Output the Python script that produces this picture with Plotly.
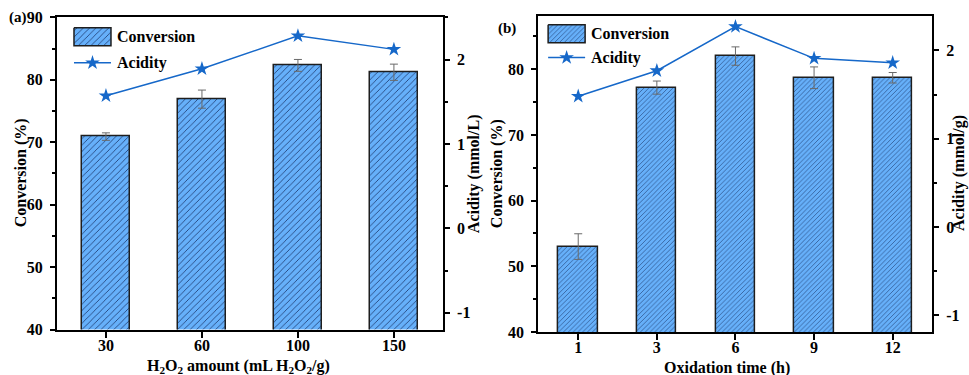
import plotly.graph_objects as go

# ---- data -------------------------------------------------------------
h2o2_amount = ["30", "60", "100", "150"]
conv_a = [70.9, 76.9, 82.3, 81.2]
conv_a_err = [0.6, 1.45, 0.95, 1.3]
acid_a = [1.57, 1.89, 2.28, 2.12]

ox_time = ["1", "3", "6", "9", "12"]
conv_b = [53.0, 77.2, 82.0, 78.7, 78.7]
conv_b_err = [1.95, 1.0, 1.4, 1.65, 0.8]
acid_b = [1.48, 1.77, 2.27, 1.91, 1.86]

acid_ticks = [-1, 0, 1, 2]
acid_ticktext = ["-1", "0", "1", "2"]

# ---- styling ----------------------------------------------------------
W, H = 969, 375
L, R, T, B = 57, 932.3, 15.7, 331.7          # outer plotting region in pixels
FONT = "Liberation Serif"
BAR_BG = "#66B0FA"
HATCH = "#1E3C70"
EDGE = "#1E1E1E"
LINE = "#1668C9"
ERR = "#6A6A6A"


def px_x(x):
    return (x - L) / (R - L)


def px_y(y):
    return (B - y) / (B - T)


fig = go.Figure()


def add_panel(xa, ya_left, ya_right, cats, conv, err, acid, hatch_size):
    fig.add_trace(go.Bar(
        x=cats, y=conv, width=0.5,
        xaxis=xa, yaxis=ya_left,
        marker=dict(
            color=BAR_BG,
            line=dict(color=EDGE, width=1.5),
            pattern=dict(shape="/", fgcolor=HATCH, bgcolor=BAR_BG,
                         size=hatch_size, solidity=0.18, fillmode="replace"),
        ),
        error_y=dict(type="data", array=err, color=ERR, thickness=1, width=4),
        showlegend=False,
    ))
    fig.add_trace(go.Scatter(
        x=cats, y=acid, mode="lines+markers",
        xaxis=xa, yaxis=ya_right,
        line=dict(color=LINE, width=1.5),
        marker=dict(symbol="star", size=11, color=LINE),
        showlegend=False,
    ))


add_panel("x", "y", "y2", h2o2_amount, conv_a, conv_a_err, acid_a, 4.5)
add_panel("x2", "y3", "y4", ox_time, conv_b, conv_b_err, acid_b, 3.4)

tick_font = dict(family=FONT, size=16, color="black", weight="bold")

common_x = dict(
    type="category", showline=True, linewidth=2, linecolor="black", mirror=True,
    ticks="outside", ticklen=6, tickwidth=1.5, tickcolor="black",
    tickfont=tick_font, showgrid=False, zeroline=False, fixedrange=True,
    ticklabelstandoff=-6, automargin=False,
)
common_yl = dict(
    showline=True, linewidth=2, linecolor="black", ticks="outside", ticklen=5,
    tickwidth=1.5, tickcolor="black", tickfont=tick_font, showgrid=False,
    zeroline=False, dtick=10, tick0=0, automargin=False,
    minor=dict(ticks="outside", ticklen=3, tickwidth=1.5, tickcolor="black", dtick=5, tick0=0),
    ticklabelstandoff=4,
)
common_yr = dict(
    showline=True, linewidth=2, linecolor="black", ticks="outside", ticklen=5,
    tickwidth=1.5, tickcolor="black", tickfont=tick_font, showgrid=False,
    zeroline=False, tickmode="array", tickvals=acid_ticks, ticktext=acid_ticktext,
    side="right", automargin=False,
    minor=dict(ticks="outside", ticklen=3, tickwidth=1.5, tickcolor="black", dtick=0.5, tick0=0),
    ticklabelstandoff=4,
)

dom_ax = [px_x(57), px_x(443)]
dom_ay = [px_y(329.3), px_y(17)]
dom_bx = [px_x(538.3), px_x(932.3)]
dom_by = [px_y(331.7), px_y(15.7)]

fig.update_layout(
    template="none",
    width=W, height=H,
    margin=dict(l=L, r=W - R, t=T, b=H - B, autoexpand=False),
    font=dict(family=FONT, color="black"),
    paper_bgcolor="white", plot_bgcolor="rgba(0,0,0,0)",
    bargap=0,
    xaxis=dict(common_x, domain=dom_ax, anchor="y", range=[-0.51, 3.51]),
    yaxis=dict(common_yl, domain=dom_ay, anchor="x", range=[40, 90]),
    yaxis2=dict(common_yr, domain=dom_ay, anchor="x", overlaying="y", range=[-1.2, 2.5]),
    xaxis2=dict(common_x, domain=dom_bx, anchor="y3", range=[-0.51, 4.5]),
    yaxis3=dict(common_yl, domain=dom_by, anchor="x2", range=[40, 88.1]),
    yaxis4=dict(common_yr, domain=dom_by, anchor="x2", overlaying="y3", range=[-1.19, 2.39]),
    # pixel canvas used for the hand-built legend keys
    xaxis5=dict(domain=[0, 1], range=[L, R], visible=False, fixedrange=True, anchor="y5"),
    yaxis5=dict(domain=[0, 1], range=[B, T], visible=False, fixedrange=True, anchor="x5"),
)


def label(text, x, y, angle=0, size=16, xanchor="center"):
    fig.add_annotation(x=px_x(x), y=px_y(y), xref="paper", yref="paper", text=text,
                       showarrow=False, xanchor=xanchor, yanchor="middle", textangle=angle,
                       font=dict(family=FONT, size=size, color="black", weight="bold"))


# axis titles
label("H<sub>2</sub>O<sub>2</sub> amount (mL H<sub>2</sub>O<sub>2</sub>/g)", 239, 366)
label("Oxidation time (h)", 727, 368)
label("Conversion (%)", 21, 173, angle=-90)
label("Acidity (mmol/L)", 474, 173, angle=-90)
label("Conversion (%)", 497, 173, angle=-90)
label("Acidity (mmol/g)", 960, 173, angle=-90)


def legend_keys(x0, y_bar, y_line, hatch_size):
    # patch for the bar series
    fig.add_trace(go.Scatter(
        x=[x0, x0 + 37, x0 + 37, x0, x0], y=[y_bar - 9, y_bar - 9, y_bar + 9, y_bar + 9, y_bar - 9],
        xaxis="x5", yaxis="y5", mode="lines", fill="toself",
        fillcolor=BAR_BG, line=dict(color=EDGE, width=1.5),
        fillpattern=dict(shape="/", fgcolor=HATCH, bgcolor=BAR_BG, size=hatch_size,
                         solidity=0.18, fillmode="replace"),
        showlegend=False, hoverinfo="skip",
    ))
    # line + star key for the acidity series
    fig.add_trace(go.Scatter(
        x=[x0, x0 + 37], y=[y_line, y_line], xaxis="x5", yaxis="y5", mode="lines",
        line=dict(color=LINE, width=1.5), showlegend=False, hoverinfo="skip",
    ))
    fig.add_trace(go.Scatter(
        x=[x0 + 18.5], y=[y_line], xaxis="x5", yaxis="y5", mode="markers",
        marker=dict(symbol="star", size=11, color=LINE), showlegend=False, hoverinfo="skip",
    ))
    label("Conversion", x0 + 41, y_bar, xanchor="left")
    label("Acidity", x0 + 41, y_line, xanchor="left")


legend_keys(74, 36.5, 62.5, 4.5)
legend_keys(548.3, 33.5, 57.3, 3.4)

label("(a)", 18, 17, size=15)
label("(b)", 507.5, 28, size=15)

fig.write_html("out.html")
